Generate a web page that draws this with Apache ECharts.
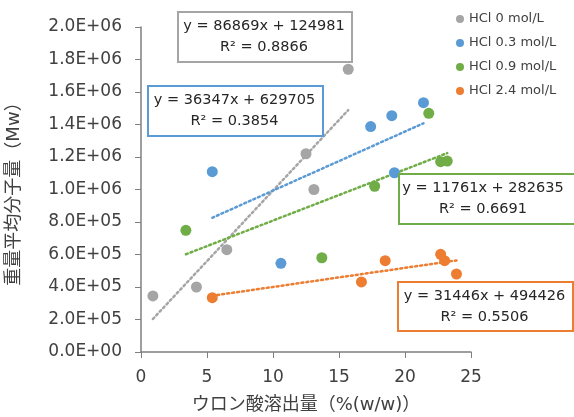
<!DOCTYPE html>
<html><head><meta charset="utf-8">
<script src="https://cdn.jsdelivr.net/npm/echarts@6/dist/echarts.min.js"></script>
<style>html,body{margin:0;padding:0;background:#fff}#c{width:574px;height:417px}</style>
</head><body><div id="c"></div>
<script>
var seriesNames = ['HCl 0 mol/L','HCl 0.3 mol/L','HCl 0.9 mol/L','HCl 2.4 mol/L'];
var colors = ['#A5A5A5','#5B9BD5','#70AD47','#ED7D31'];
var hcl0 = [[0.9,345000],[4.2,400000],[6.5,630000],[12.5,1220000],[13.1,1000000],[15.7,1740000]];
var hcl03 = [[5.4,1110000],[10.6,546000],[17.4,1387000],[19.0,1454000],[21.4,1534000],[19.2,1103000]];
var hcl09 = [[3.4,749000],[13.7,580000],[17.7,1020000],[21.8,1469000],[22.7,1171000],[23.2,1175000]];
var hcl24 = [[5.4,334000],[16.7,431000],[18.5,562000],[22.7,601000],[23.0,562000],[23.9,480000]];
// trendline coefficients (slope, intercept) as drawn
var trendSlopes = [86869, 36347, 31446, 11761];
var trendIntercepts = [124981, 629705, 494426, 282635];
// equation box texts as shown in the picture
var eqTexts = ['y = 86869x + 124981\nR² = 0.8866','y = 36347x + 629705\nR² = 0.3854','y = 11761x + 282635\nR² = 0.6691','y = 31446x + 494426\nR² = 0.5506'];
var yName = '重量平均分子量（Mw）';
var xName = 'ウロン酸溶出量（%(w/w)）';

var allData = [hcl0, hcl03, hcl09, hcl24];
var FONT = '"DejaVu Sans", "Noto Sans CJK JP", sans-serif';

function fmtY(v){
  if (v === 0) return '0.0E+00';
  var e = Math.floor(Math.log10(v) + 1e-9);
  var m = v / Math.pow(10, e);
  return m.toFixed(1) + 'E+' + (e < 10 ? '0' + e : e);
}

var series = [];
allData.forEach(function(d, i){
  series.push({
    name: seriesNames[i], type: 'scatter', data: d, symbolSize: 11,
    itemStyle: {color: colors[i], opacity: 1}, z: 3
  });
});
allData.forEach(function(d, i){
  var xs = d.map(function(p){return p[0];});
  var x0 = Math.min.apply(null, xs), x1 = Math.max.apply(null, xs);
  series.push({
    name: 'trend' + i, type: 'line', symbol: 'none', silent: true,
    data: [[x0, trendSlopes[i]*x0 + trendIntercepts[i]], [x1, trendSlopes[i]*x1 + trendIntercepts[i]]],
    lineStyle: {color: colors[i], width: 2.5, type: [2, 3], cap: 'round'}, z: 2
  });
});

var boxes = [
  {x: 177, y: 11, w: 174, h: 50, c: '#A5A5A5'},
  {x: 147, y: 85, w: 175, h: 50, c: '#5B9BD5'},
  {x: 398, y: 173, w: 190, h: 50, c: '#70AD47'},
  {x: 397, y: 281, w: 175, h: 49, c: '#ED7D31'}
];
var graphics = [];
boxes.forEach(function(b, i){
  graphics.push({type: 'rect', left: b.x, top: b.y, shape: {width: b.w, height: b.h},
    style: {fill: '#fff', stroke: b.c, lineWidth: 2}, z: 10});
  graphics.push({type: 'text', x: b.x + (i === 2 ? 85 : b.w/2), y: b.y + b.h/2 + 1,
    style: {text: eqTexts[i], fill: '#262626', font: '14.5px ' + FONT, align: 'center', verticalAlign: 'middle', lineHeight: 21}, z: 11});
});

var chart = echarts.init(document.getElementById('c'));
chart.setOption({
  animation: false,
  textStyle: {fontFamily: FONT},
  grid: {left: 141, right: 103, top: 27, bottom: 65, containLabel: false, outerBoundsMode: 'none'},
  legend: {
    data: seriesNames, orient: 'vertical', left: 451, top: 7,
    icon: 'circle', itemWidth: 8, itemHeight: 8, itemGap: 10,
    textStyle: {fontSize: 13, color: '#404040', lineHeight: 14, fontFamily: FONT}
  },
  xAxis: {
    type: 'value', min: 0, max: 25, interval: 5,
    name: xName, nameLocation: 'middle', nameGap: 44,
    nameTextStyle: {fontSize: 18, color: '#404040', fontFamily: FONT},
    axisLine: {lineStyle: {color: '#7F7F7F', width: 1.5}},
    axisTick: {show: true, length: 6, lineStyle: {color: '#7F7F7F'}},
    axisLabel: {fontSize: 17, color: '#404040', margin: 17},
    splitLine: {show: false}
  },
  yAxis: {
    type: 'value', min: 0, max: 2000000, interval: 200000,
    name: yName, nameLocation: 'middle', nameGap: 118, nameRotate: 90,
    nameTextStyle: {fontSize: 18, color: '#404040', fontFamily: FONT},
    axisLine: {show: true, lineStyle: {color: '#7F7F7F', width: 1.5}},
    axisTick: {show: true, length: 6, lineStyle: {color: '#7F7F7F'}},
    axisLabel: {fontSize: 17, color: '#404040', margin: 19, formatter: fmtY},
    splitLine: {show: false}
  },
  series: series,
  graphic: graphics
});
</script></body></html>
